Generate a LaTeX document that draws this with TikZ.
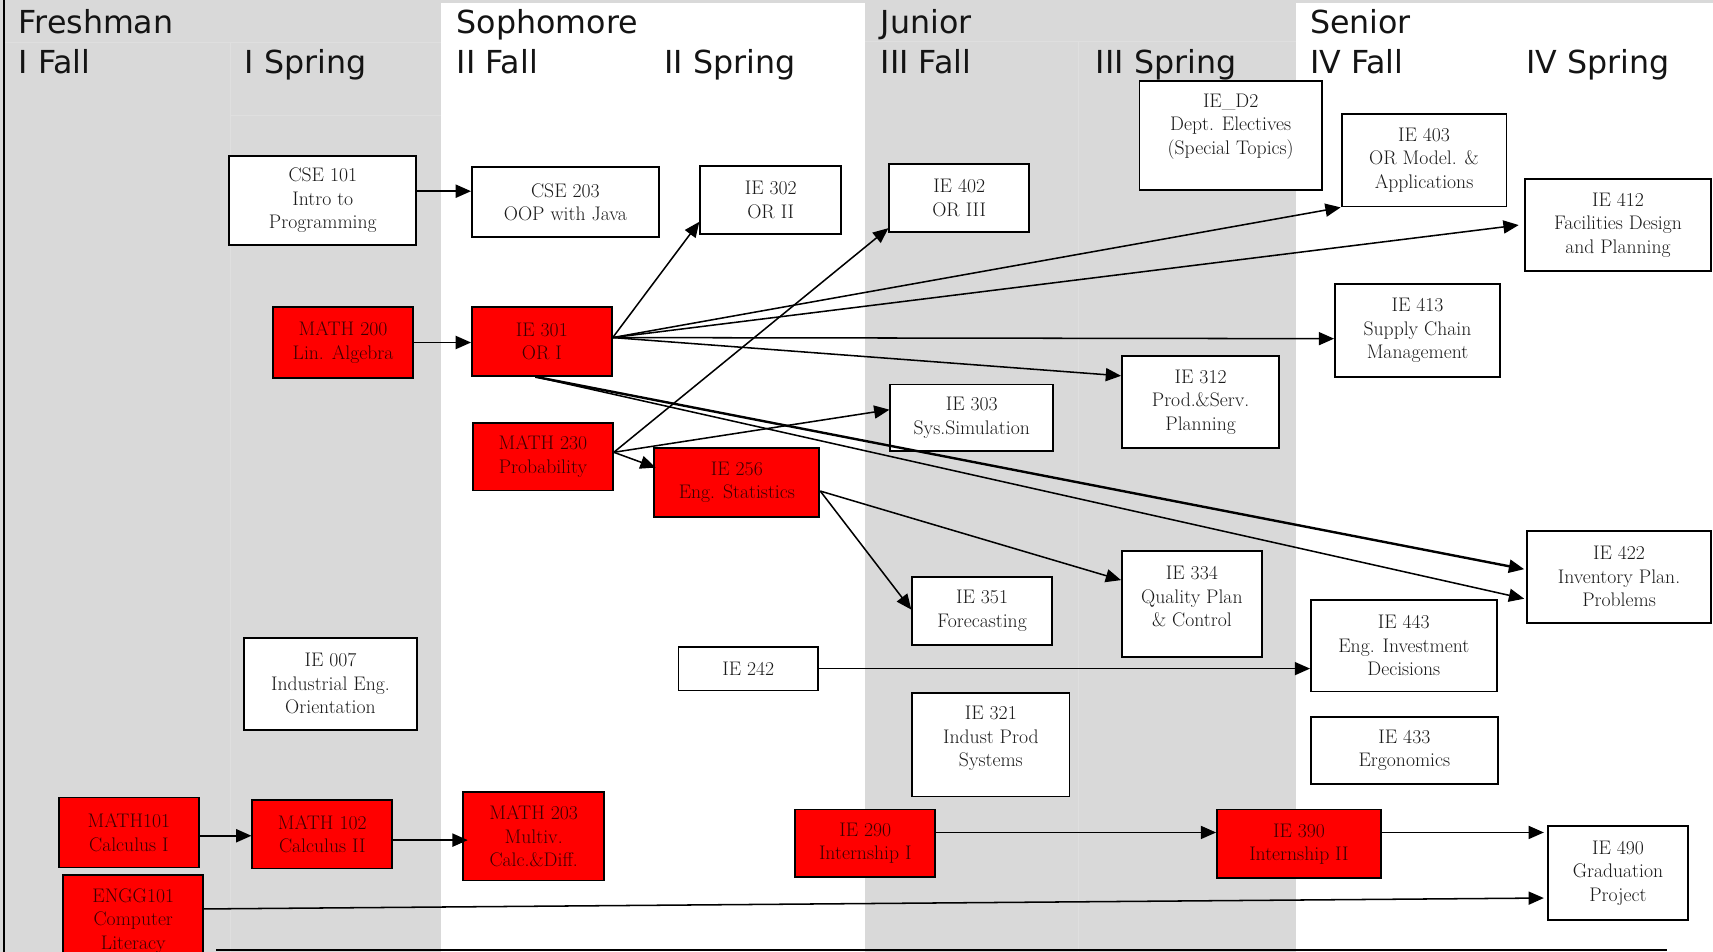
\documentclass[tikz,border=0pt]{standalone}
\usepackage{fontspec}
\newfontfamily\hdrfont{DejaVu Sans}
\usetikzlibrary{arrows.meta}
\definecolor{bg}{HTML}{D9D9D9}
\definecolor{faint}{HTML}{DFDFDF}
\definecolor{redbox}{HTML}{FF0000}
\definecolor{redtxt}{HTML}{3C0000}
\definecolor{boxtxt}{HTML}{1A1A1A}
\begin{document}
\begin{tikzpicture}[x=1pt,y=-1pt,
  boxfont/.style={font=\fontsize{18}{21.5}\selectfont},
  box/.style={draw=black, line width=1.7pt, align=center, inner sep=0pt, boxfont},
  wbox/.style={box, fill=white, text=boxtxt},
  rbox/.style={box, fill=redbox, text=redtxt},
  boxtext/.style={align=center, inner sep=0pt, boxfont, text=boxtxt},
  hdr/.style={anchor=base west, inner sep=0pt, font=\hdrfont\fontsize{29}{34}\selectfont, text=black!92},
  conn/.style={line width=1.4pt, -{Triangle[length=14pt,width=12pt]}},
  thickconn/.style={conn, line width=2.2pt},
]
\useasboundingbox (0,0) rectangle (1568,871);
\clip (0,0) rectangle (1568,871);

% background bands
\fill[bg] (0,0) rectangle (1568,871);
\fill[white] (404,3) rectangle (792,871);
\fill[white] (1186,3) rectangle (1568,871);

% faint grid lines
\draw[faint, line width=0.8pt] (4,39) -- (404,39);
\draw[faint, line width=0.8pt] (792,38) -- (1186,38);
\draw[faint, line width=0.8pt] (211,39) -- (211,871);
\draw[faint, line width=0.8pt] (987,38) -- (987,871);
\draw[faint, line width=0.8pt] (211,106) -- (404,106);

% frame lines
\draw[line width=1.6pt] (4,0) -- (4,871);
\draw[line width=1.6pt] (198,869.5) -- (1526,869.5);

% headers
\node[hdr] (hfr) at (17,31) {Freshman};
\node[hdr] (hif) at (17,67) {I Fall};
\node[hdr] (his) at (224,67) {I Spring};
\node[hdr] (hso) at (418,31) {Sophomore};
\node[hdr] (hiif) at (418,67) {II Fall};
\node[hdr] (hiis) at (608,67) {II Spring};
\node[hdr] (hju) at (806,31) {Junior};
\node[hdr] (hiiif) at (806,67) {III Fall};
\node[hdr] (hiiis) at (1003,67) {III Spring};
\node[hdr] (hse) at (1199,31) {Senior};
\node[hdr] (hivf) at (1199,67) {IV Fall};
\node[hdr] (hivs) at (1397,67) {IV Spring};

% white boxes
\node[wbox, minimum width=171pt, minimum height=81pt] (cse101) at (295.5,183.5) {CSE 101\\Intro to\\Programming};
\node[wbox, minimum width=171pt, minimum height=64pt] (cse203) at (517.5,185) {CSE 203\\OOP with Java};
\node[wbox, minimum width=129pt, minimum height=62pt] (ie302) at (705.5,183) {IE 302\\OR II};
\node[wbox, minimum width=128pt, minimum height=62pt] (ie402) at (878,181) {IE 402\\OR III};
\node[wbox, minimum width=167pt, minimum height=100pt] (ied2) at (1126.5,124) {};
\node[boxtext] (ied2t) at (1126.5,116) {IE\_D2\\Dept. Electives\\(Special Topics)};
\node[wbox, minimum width=151pt, minimum height=85pt] (ie403) at (1303.5,146.5) {IE 403\\OR Model. \&\\Applications};
\node[wbox, minimum width=170pt, minimum height=84pt] (ie412) at (1481,206) {IE 412\\Facilities Design\\and Planning};
\node[wbox, minimum width=151pt, minimum height=85pt] (ie413) at (1297.5,302.5) {IE 413\\Supply Chain\\Management};
\node[wbox, minimum width=144pt, minimum height=84pt] (ie312) at (1099,368) {IE 312\\Prod.\&Serv.\\Planning};
\node[wbox, minimum width=149pt, minimum height=61pt] (ie303) at (889.5,382.5) {IE 303\\Sys.Simulation};
\node[wbox, minimum width=128pt, minimum height=62pt] (ie351) at (899,559) {IE 351\\Forecasting};
\node[wbox, minimum width=128pt, minimum height=97pt] (ie334) at (1091,552.5) {};
\node[boxtext] (ie334t) at (1091,546) {IE 334\\Quality Plan\\\& Control};
\node[wbox, minimum width=168pt, minimum height=84pt] (ie422) at (1482,528) {IE 422\\Inventory Plan.\\Problems};
\node[wbox, minimum width=170pt, minimum height=84pt] (ie443) at (1285,591) {IE 443\\Eng. Investment\\Decisions};
\node[wbox, minimum width=171pt, minimum height=62pt] (ie433) at (1285.5,687) {IE 433\\Ergonomics};
\node[wbox, minimum width=128pt, minimum height=40pt] (ie242) at (685,612) {IE 242};
\node[wbox, minimum width=144pt, minimum height=95pt] (ie321) at (907,681.5) {};
\node[boxtext] (ie321t) at (907,676) {IE 321\\Indust Prod\\Systems};
\node[wbox, minimum width=159pt, minimum height=84pt] (ie007) at (302.5,626) {IE 007\\Industrial Eng.\\Orientation};
\node[wbox, minimum width=128pt, minimum height=86pt] (ie490) at (1481,799) {IE 490\\Graduation\\Project};

% red boxes
\node[rbox, minimum width=128pt, minimum height=65pt] (math200) at (314,313.5) {MATH 200\\Lin. Algebra};
\node[rbox, minimum width=128pt, minimum height=63pt] (ie301) at (496,312.5) {IE 301\\OR I};
\node[rbox, minimum width=128pt, minimum height=62pt] (math230) at (497,418) {MATH 230\\Probability};
\node[rbox, minimum width=151pt, minimum height=63pt] (ie256) at (674.5,441.5) {IE 256\\Eng. Statistics};
\node[rbox, minimum width=128pt, minimum height=64pt] (math101) at (118,762) {MATH101\\Calculus I};
\node[rbox, minimum width=128pt, minimum height=63pt] (math102) at (295,763.5) {MATH 102\\Calculus II};
\node[rbox, minimum width=129pt, minimum height=81pt] (math203) at (488.5,765.5) {MATH 203\\Multiv.\\Calc.\&Diff.};
\node[rbox, minimum width=128pt, minimum height=62pt] (ie290) at (792,772) {IE 290\\Internship I};
\node[rbox, minimum width=150pt, minimum height=63pt] (ie390) at (1189,772.5) {IE 390\\Internship II};
\node[rbox, minimum width=128pt, minimum height=84pt] (engg101) at (122,843) {ENGG101\\Computer\\Literacy};

% connectors
\draw[conn] ([yshift=8.5pt]cse101.east) -- ([yshift=8.5pt]cse101.east -| cse203.west);
\draw[conn] (math200.east) -- (math200.east -| ie301.west);
\draw[conn] ([yshift=-3pt]math101.east) -- ([yshift=-3pt]math101.east -| math102.west);
\draw[conn] ([yshift=-5.5pt]math102.east) -- ([yshift=-5.5pt,xshift=5pt]math102.east -| math203.west);

\draw[conn] ([yshift=3.5pt]ie301.east) -- ([yshift=-20pt]ie302.west);
\draw[conn] ([yshift=3.5pt]ie301.east) -- (ie403.south west);
\draw[conn] ([yshift=3.5pt]ie301.east) -- ([xshift=-5pt]ie412.west);
\draw[conn] ([yshift=3.5pt]ie301.east) -- ([yshift=-7.5pt]ie413.west);
\draw[conn] ([yshift=3.5pt]ie301.east) -- ([yshift=24pt]ie312.west);
\draw[thickconn] ([xshift=-6pt]ie301.south) -- ([yshift=7pt,xshift=-2pt]ie422.west);
\draw[conn] ([xshift=-6pt]ie301.south) -- ([yshift=-20pt,xshift=-2pt]ie422.west);

\draw[conn] ([yshift=4pt]math230.east) -- ([yshift=4pt]ie402.south west);
\draw[conn] ([yshift=4pt]math230.east) -- ([yshift=7.5pt]ie303.west);
\draw[conn] ([yshift=4pt]math230.east) -- ([yshift=13.5pt,xshift=2pt]ie256.west);

\draw[conn] ([yshift=-8pt]ie256.east) -- ([yshift=1pt]ie351.west);
\draw[conn] ([yshift=-8pt]ie256.east) -- ([yshift=21.5pt]ie334.west);

\draw[conn] (ie242.east) -- (ie242.east -| ie443.west);
\draw[conn] ([yshift=10pt]ie290.east) -- ([yshift=10pt]ie290.east -| ie390.west);
\draw[conn] ([yshift=10.5pt]ie390.east) -- ([yshift=10.5pt,xshift=-3pt]ie390.east -| ie490.west);
\draw[conn] ([yshift=11pt]engg101.east) -- ([yshift=-23pt,xshift=-3pt]ie490.west);
\end{tikzpicture}
\end{document}
